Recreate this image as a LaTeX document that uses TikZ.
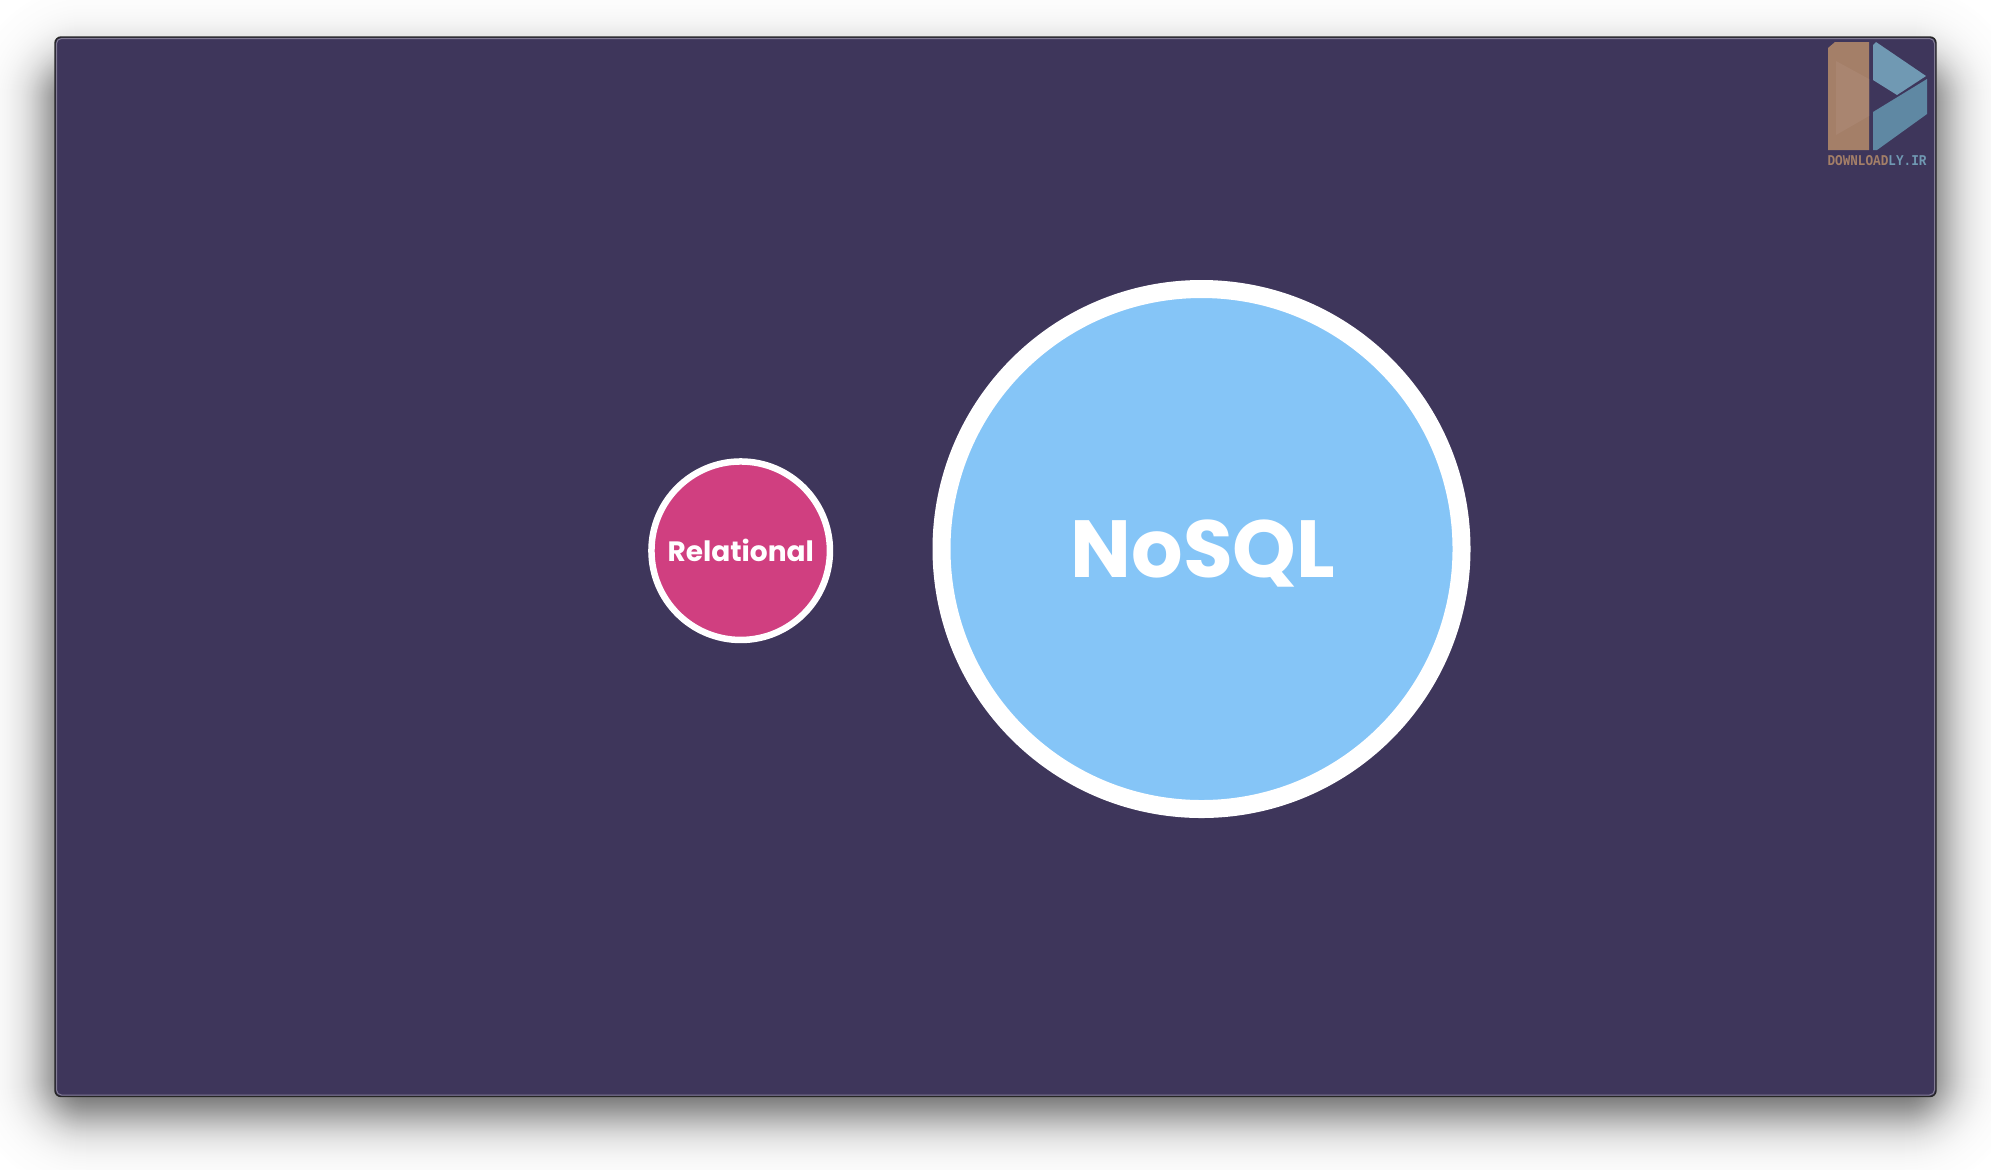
\documentclass[tikz,border=0pt]{standalone}
\usepackage{fontspec}
\setmainfont{Poppins}
\newfontfamily\logofont{Liberation Mono}
\definecolor{winbg}{HTML}{3E365B}
\definecolor{relpink}{HTML}{D03F80}
\definecolor{nosqlblue}{HTML}{85C5F7}
\definecolor{logotan}{HTML}{A47F68}
\definecolor{logotanlight}{HTML}{A98570}
\definecolor{logoblueA}{HTML}{7099B3}
\definecolor{logoblueB}{HTML}{5F88A3}
\tikzset{
  ringnode/.style={circle,draw=white,text=white,inner sep=0pt,outer sep=0pt}
}
\begin{document}
\begin{tikzpicture}[x=0.5pt,y=-0.5pt]
\fill[white] (0,0) rectangle (1991,1169);
\useasboundingbox (0,0) rectangle (1991,1169);
% soft window shadow, opaque steps from the outside in
\begin{scope}
\clip (0,0) rectangle (1991,1169);
\foreach \r in {75,74,...,-50}{
  \pgfmathsetmacro{\dk}{65/(1+exp(\r/15))}
  \pgfmathsetmacro{\rad}{max(3,(\r+40)*0.5)}
  \colorlet{shadestep}{black!\dk!white}
  \fill[shadestep,rounded corners=\rad pt] ({47-\r},{62-\r}) rectangle ({1944+\r},{1116+\r});
}
\end{scope}
% window
\draw[black!85,line width=0.7pt,fill=winbg,rounded corners=3pt] (55,37) rectangle (1936,1096.5);
\draw[white!35!winbg,line width=0.5pt,rounded corners=2.5pt] (56.5,38.5) rectangle (1934.5,1095);
% circles
\node[ringnode,fill=relpink,line width=3.25pt,minimum size=89.25pt,font=\bfseries\fontsize{14}{16}\selectfont] (rel) at (740.7,550.7) {Relational};
\node[ringnode,fill=nosqlblue,line width=9pt,minimum size=260pt] (nosql) at (1201.5,549) {};
\node[text=white,inner sep=0pt,font=\bfseries\fontsize{40.5}{48}\selectfont,text height=28pt,text depth=0pt] (nosqllabel) at (1203,549) {NoSQL};
% logo
\fill[logotan] (1835,42) -- (1869,42) -- (1869,150) -- (1828,150) -- (1828,48) -- cycle;
\fill[logotanlight] (1836,61) -- (1869,79) -- (1869,116) -- (1836,135) -- cycle;
\fill[logoblueA] (1873,45) -- (1876,42) -- (1926,76) -- (1897,95) -- (1873,80) -- cycle;
\fill[logoblueB] (1927,79) -- (1927,114) -- (1877,150) -- (1873,150) -- (1873,112) -- cycle;
\node[inner sep=0pt,outer sep=0pt] (logotext) at (1877,161) {\resizebox{49.5pt}{5pt}{\logofont\bfseries\textcolor{logotan}{DOWNLOAD}\textcolor{logoblueA}{LY.IR}}};
\end{tikzpicture}
\end{document}
